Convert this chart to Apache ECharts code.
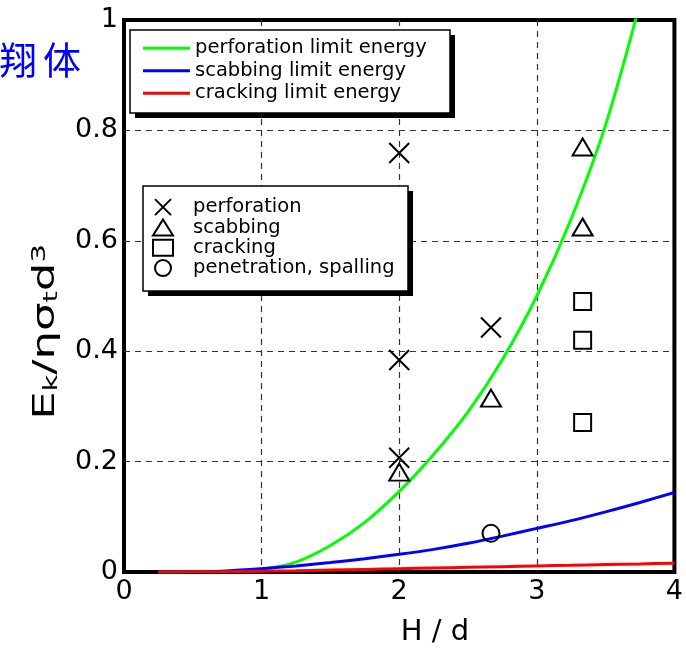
<!DOCTYPE html>
<html>
<head>
<meta charset="utf-8">
<script src="https://cdn.jsdelivr.net/npm/echarts@6/dist/echarts.min.js"></script>
<style>html,body{margin:0;padding:0;background:#fff;}#c{width:686px;height:650px;}</style>
</head>
<body>
<div id="c"></div>
<script>
// ---- data ----
const xTicks = ['0', '1', '2', '3', '4'];
const yTicks = ['0', '0.2', '0.4', '0.6', '0.8', '1'];

const limitNames = ['perforation limit energy', 'scabbing limit energy', 'cracking limit energy'];
const perforationLimitX = [0.25, 0.5, 0.75, 1, 1.25, 1.5, 1.75, 2, 2.25, 2.5, 2.75, 3, 3.25, 3.5, 3.75];
const perforationLimitY = [0, 0.0003, 0.0015, 0.005, 0.018, 0.048, 0.09, 0.146, 0.213, 0.29, 0.385, 0.5, 0.64, 0.81, 1.03];
const scabbingLimitX = [0.25, 0.5, 0.75, 1, 1.25, 1.5, 1.75, 2, 2.25, 2.5, 2.75, 3, 3.25, 3.5, 3.75, 4];
const scabbingLimitY = [0, 0.0005, 0.002, 0.006, 0.011, 0.017, 0.024, 0.032, 0.041, 0.052, 0.065, 0.079, 0.093, 0.109, 0.126, 0.144];
const crackingLimitX = [0.25, 0.5, 0.75, 1, 1.25, 1.5, 1.75, 2, 2.25, 2.5, 2.75, 3, 3.25, 3.5, 3.75, 4];
const crackingLimitY = [0, 0.0003, 0.0008, 0.0015, 0.0024, 0.0035, 0.0047, 0.006, 0.0073, 0.0085, 0.0097, 0.011, 0.0122, 0.0135, 0.0147, 0.016];

const obsNames = ['perforation', 'scabbing', 'cracking', 'penetration, spalling'];
const perforationX = [2, 2, 2, 2.667];
const perforationY = [0.759, 0.384, 0.207, 0.443];
const scabbingX = [2, 2.667, 3.333, 3.333];
const scabbingY = [0.181, 0.315, 0.770, 0.625];
const crackingX = [3.333, 3.333, 3.333];
const crackingY = [0.49, 0.42, 0.271];
const penetrationX = [2.667];
const penetrationY = [0.07];

// ---- build ----
const pairs = (xs, ys) => xs.map((x, i) => [x, ys[i]]);
const FONT = 'DejaVu Sans';
const chart = echarts.init(document.getElementById('c'), null, {renderer: 'canvas'});

const lineSeries = (name, xs, ys, color) => ({
  name, type: 'line', data: pairs(xs, ys), showSymbol: false, smooth: 0.3,
  lineStyle: {color, width: 3}, itemStyle: {color}, z: 2, clip: true
});
const markStyle = {color: 'transparent', borderColor: '#000', borderWidth: 2, opacity: 1};
const scatterSeries = (name, xs, ys, symbol, size) => ({
  name, type: 'scatter', data: pairs(xs, ys), symbol, symbolSize: size,
  itemStyle: markStyle, z: 2
});

chart.setOption({
  animation: false,
  backgroundColor: '#fff',
  textStyle: {fontFamily: FONT},
  grid: {left: 124, top: 20, width: 552, height: 552, show: true, borderColor: '#000', borderWidth: 4, backgroundColor: 'transparent'},
  xAxis: {
    type: 'value', min: 0, max: 4, interval: 1,
    axisLine: {show: false}, axisTick: {show: false},
    axisLabel: {color: '#000', fontSize: 27, fontFamily: FONT, margin: 6,
      formatter: v => xTicks[Math.round(v)]},
    splitLine: {show: true, showMinLine: false, showMaxLine: false, lineStyle: {color: '#333', width: 1.2, type: [6, 5]}}
  },
  yAxis: {
    type: 'value', min: 0, max: 1, interval: 0.2,
    axisLine: {show: false}, axisTick: {show: false},
    axisLabel: {color: '#000', fontSize: 27, fontFamily: FONT, margin: 6,
      formatter: v => yTicks[Math.round(v * 5)]},
    splitLine: {show: true, showMinLine: false, showMaxLine: false, lineStyle: {color: '#333', width: 1.2, type: [6, 5]}}
  },
  legend: [
    {
      data: limitNames, orient: 'vertical', left: 143, top: 37, padding: 0, itemGap: 0,
      icon: 'rect', itemWidth: 47, itemHeight: 3, selectedMode: false,
      textStyle: {fontFamily: FONT, fontSize: 19.5, color: '#000', lineHeight: 22.5}
    },
    {
      data: obsNames, orient: 'vertical', left: 152, top: 197, padding: 0, itemGap: 0,
      itemWidth: 20, itemHeight: 16, selectedMode: false,
      itemStyle: {color: 'transparent', borderColor: '#000', borderWidth: 2, opacity: 1},
      textStyle: {fontFamily: FONT, fontSize: 19.5, color: '#000', lineHeight: 20.3, padding: [0, 0, 0, 15]}
    }
  ],
  graphic: [
    {type: 'rect', z: 3, shape: {x: 135, y: 35, width: 320, height: 83}, style: {fill: '#000'}},
    {type: 'rect', z: 3, shape: {x: 130, y: 30, width: 320, height: 83}, style: {fill: '#fff', stroke: '#000', lineWidth: 1.5}},
    {type: 'rect', z: 3, shape: {x: 148, y: 191, width: 265, height: 105}, style: {fill: '#000'}},
    {type: 'rect', z: 3, shape: {x: 143, y: 186, width: 265, height: 105}, style: {fill: '#fff', stroke: '#000', lineWidth: 1.5}},
    {type: 'text', z: 5, x: 18, y: 60, style: {text: '翔', fontFamily: 'Noto Sans CJK JP', fontSize: 38, fill: '#0000ff', align: 'center', verticalAlign: 'middle'}},
    {type: 'text', z: 5, x: 62, y: 60, style: {text: '体', fontFamily: 'Noto Sans CJK JP', fontSize: 38, fill: '#0000ff', align: 'center', verticalAlign: 'middle'}},
    {type: 'text', z: 5, x: 435, y: 632, style: {text: 'H / d', fontFamily: FONT, fontSize: 29, fill: '#000', align: 'center', verticalAlign: 'middle'}},
    {type: 'text', z: 5, x: 46, y: 332, rotation: Math.PI / 2, scaleX: 1.45, style: {
      text: '{n|E}{s|k}{n|/ησ}{s|t}{n|d}{p|3}', fill: '#000', align: 'center', verticalAlign: 'middle',
      rich: {
        n: {fontFamily: FONT, fontSize: 31, lineHeight: 32, verticalAlign: 'middle', fill: '#000'},
        s: {fontFamily: FONT, fontSize: 20, lineHeight: 17, verticalAlign: 'bottom', fill: '#000'},
        p: {fontFamily: FONT, fontSize: 20, lineHeight: 8, verticalAlign: 'top', fill: '#000'}
      }
    }}
  ],
  series: [
    lineSeries(limitNames[0], perforationLimitX, perforationLimitY, '#00ff00'),
    lineSeries(limitNames[1], scabbingLimitX, scabbingLimitY, '#0000ff'),
    lineSeries(limitNames[2], crackingLimitX, crackingLimitY, '#ff0000'),
    scatterSeries(obsNames[0], perforationX, perforationY, 'path://M0,0L20,20M20,0L0,20', 20),
    scatterSeries(obsNames[1], scabbingX, scabbingY, 'triangle', [20, 17]),
    scatterSeries(obsNames[2], crackingX, crackingY, 'rect', 17),
    scatterSeries(obsNames[3], penetrationX, penetrationY, 'circle', 17)
  ]
});
</script>
</body>
</html>
